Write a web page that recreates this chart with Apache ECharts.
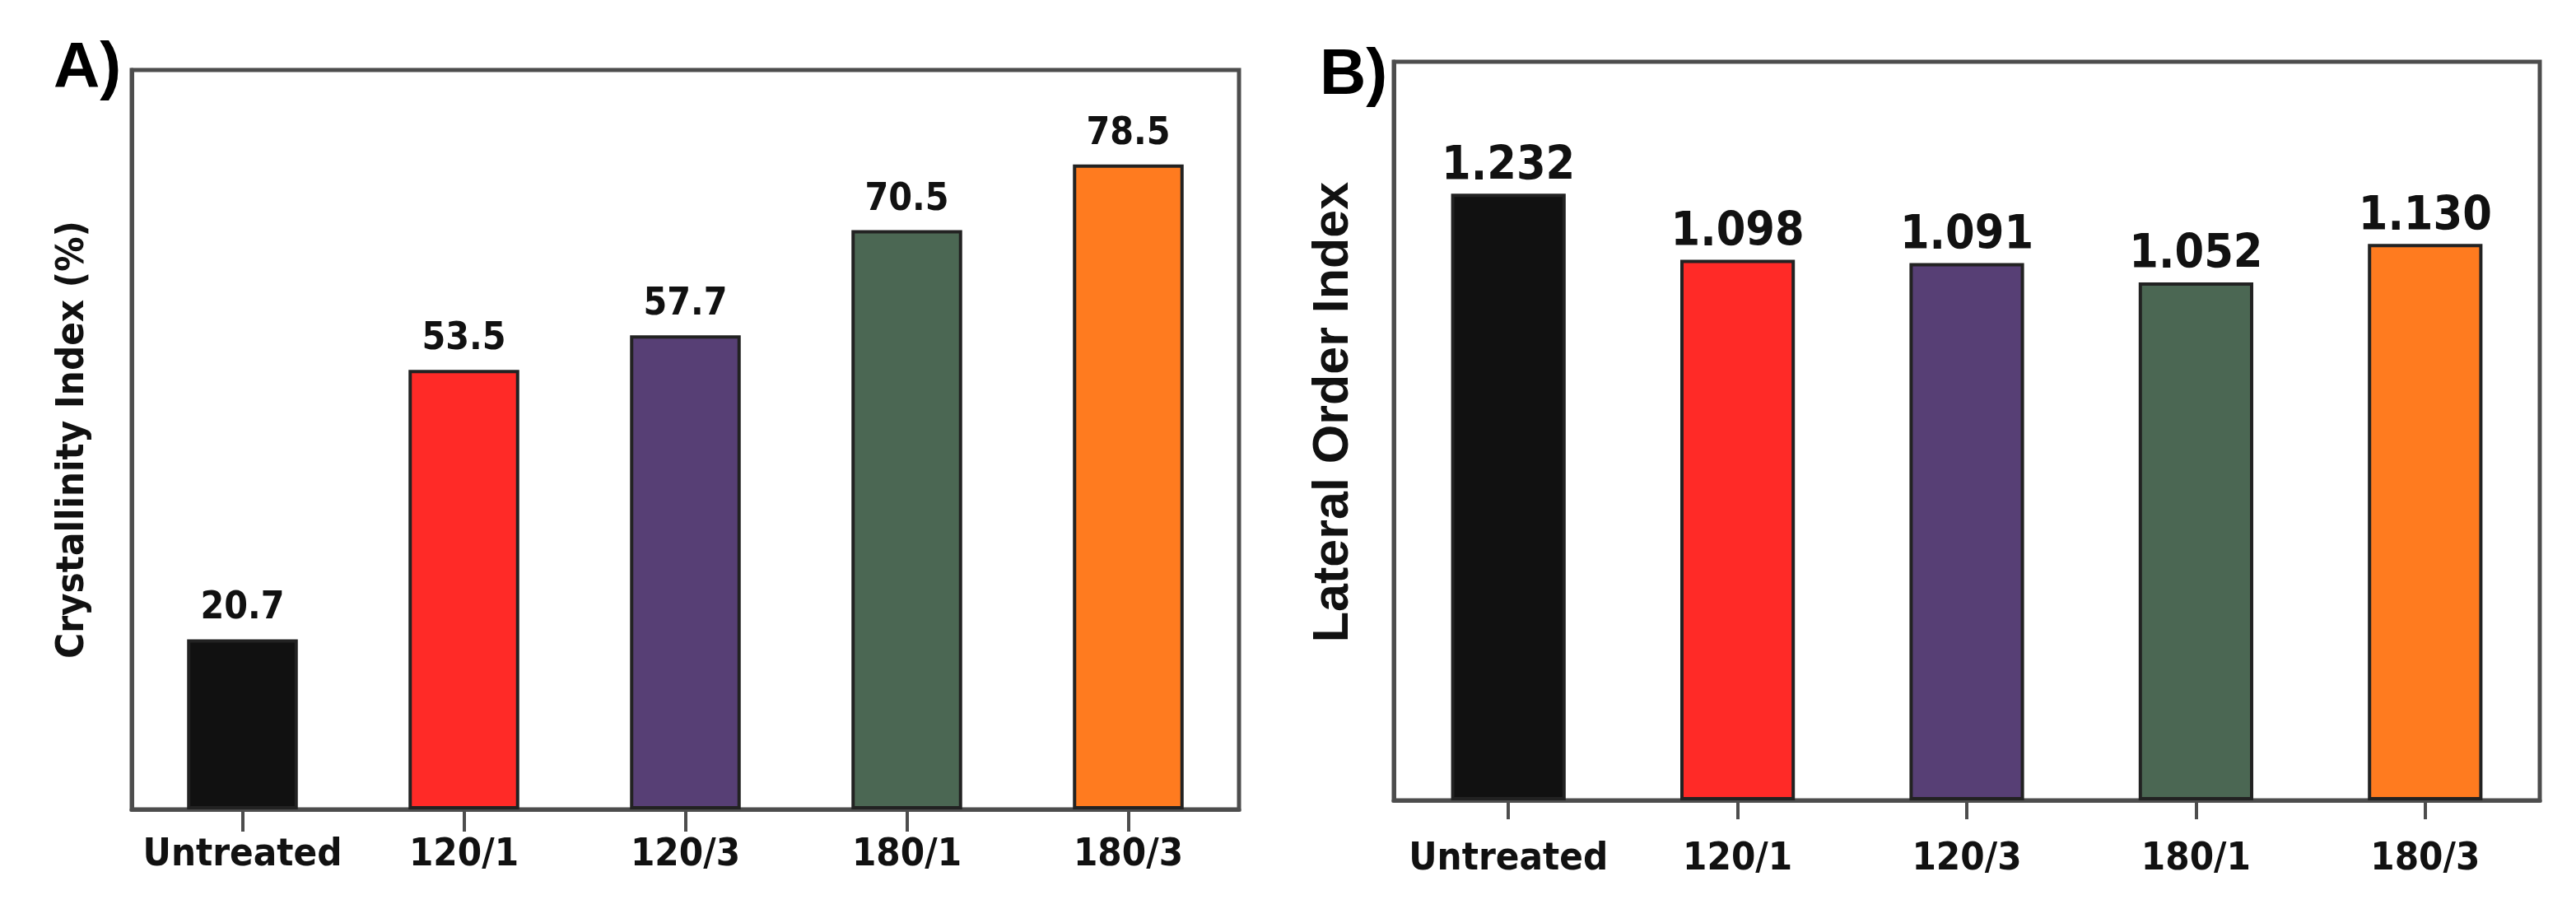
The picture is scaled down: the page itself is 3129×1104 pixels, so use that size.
<!DOCTYPE html>
<html>
<head>
<meta charset="utf-8">
<script src="https://cdn.jsdelivr.net/npm/echarts@6/dist/echarts.min.js"></script>
<style>
  html, body { margin: 0; padding: 0; background: #fff; }
  #chart { width: 3129px; height: 1104px; }
</style>
</head>
<body>
<div id="chart"></div>
<script>
let myChart = echarts.init(document.getElementById('chart'));

// data
const categories = ['Untreated', '120/1', '120/3', '180/1', '180/3'];
const crystallinity = [20.7, 53.5, 57.7, 70.5, 78.5];
const lateralOrder = [1.232, 1.098, 1.091, 1.052, 1.130];
const barColors = ['#111111', '#ff2a27', '#573f75', '#4b6753', '#ff7b1f'];

const narrow = "'DejaVu Sans Condensed', sans-serif";
const axisColor = '#4d4d4d';

function coloured(values) {
  return values.map(function (v, i) {
    return { value: v, itemStyle: { color: barColors[i] } };
  });
}

function xAxisFor(gridIndex, margin, tickLen) {
  return {
    type: 'category',
    gridIndex: gridIndex,
    data: categories,
    axisLine: { show: true, lineStyle: { color: axisColor, width: 5 } },
    axisTick: { show: true, alignWithLabel: true, length: tickLen, lineStyle: { color: axisColor, width: 4 } },
    axisLabel: { interval: 0, margin: margin, color: '#111', fontFamily: narrow, fontWeight: 'bold', fontSize: 47 },
    splitLine: { show: false }
  };
}

option = {
  backgroundColor: '#ffffff',
  animation: false,
  title: [
    { text: 'A)', left: 60, top: 40, textStyle: { fontFamily: 'Liberation Sans', fontWeight: 'bold', fontSize: 78, color: '#000' } },
    { text: 'B)', left: 1598, top: 48, textStyle: { fontFamily: 'Liberation Sans', fontWeight: 'bold', fontSize: 78, color: '#000' } }
  ],
  grid: [
    { left: 160, top: 85, width: 1345, height: 898, show: true, borderColor: axisColor, borderWidth: 5, backgroundColor: 'transparent' },
    { left: 1693, top: 75, width: 1392, height: 897, show: true, borderColor: axisColor, borderWidth: 5, backgroundColor: 'transparent' }
  ],
  xAxis: [
    xAxisFor(0, 32, 27),
    xAxisFor(1, 48, 23)
  ],
  yAxis: [
    {
      type: 'value',
      gridIndex: 0,
      min: 0,
      max: 90,
      name: 'Crystallinity Index (%)',
      nameLocation: 'middle',
      nameGap: 48,
      nameTextStyle: { fontFamily: narrow, fontWeight: 'bold', fontSize: 47, color: '#111' },
      axisLine: { show: true, lineStyle: { color: axisColor, width: 5 } },
      axisTick: { show: false },
      axisLabel: { show: false },
      splitLine: { show: false }
    },
    {
      type: 'value',
      gridIndex: 1,
      min: 0,
      max: 1.5,
      name: 'Lateral Order Index',
      nameLocation: 'middle',
      nameGap: 42,
      nameTextStyle: { fontFamily: 'Liberation Sans', fontWeight: 'bold', fontSize: 61, color: '#111', padding: [0, 0, 0, 46] },
      axisLine: { show: true, lineStyle: { color: axisColor, width: 5 } },
      axisTick: { show: false },
      axisLabel: { show: false },
      splitLine: { show: false }
    }
  ],
  series: [
    {
      name: 'Crystallinity Index',
      type: 'bar',
      xAxisIndex: 0,
      yAxisIndex: 0,
      barWidth: '50%',
      data: coloured(crystallinity),
      itemStyle: { borderColor: '#222', borderWidth: 4 },
      label: {
        show: true,
        position: 'top',
        distance: 14,
        fontFamily: narrow,
        fontWeight: 'bold',
        fontSize: 46,
        color: '#111',
        formatter: function (p) { return p.value.toFixed(1); }
      }
    },
    {
      name: 'Lateral Order Index',
      type: 'bar',
      xAxisIndex: 1,
      yAxisIndex: 1,
      barWidth: '50%',
      data: coloured(lateralOrder),
      itemStyle: { borderColor: '#222', borderWidth: 4 },
      label: {
        show: true,
        position: 'top',
        distance: 4,
        fontFamily: narrow,
        fontWeight: 'bold',
        fontSize: 57,
        color: '#111',
        formatter: function (p) { return p.value.toFixed(3); }
      }
    }
  ]
};

myChart.setOption(option);
</script>
</body>
</html>
